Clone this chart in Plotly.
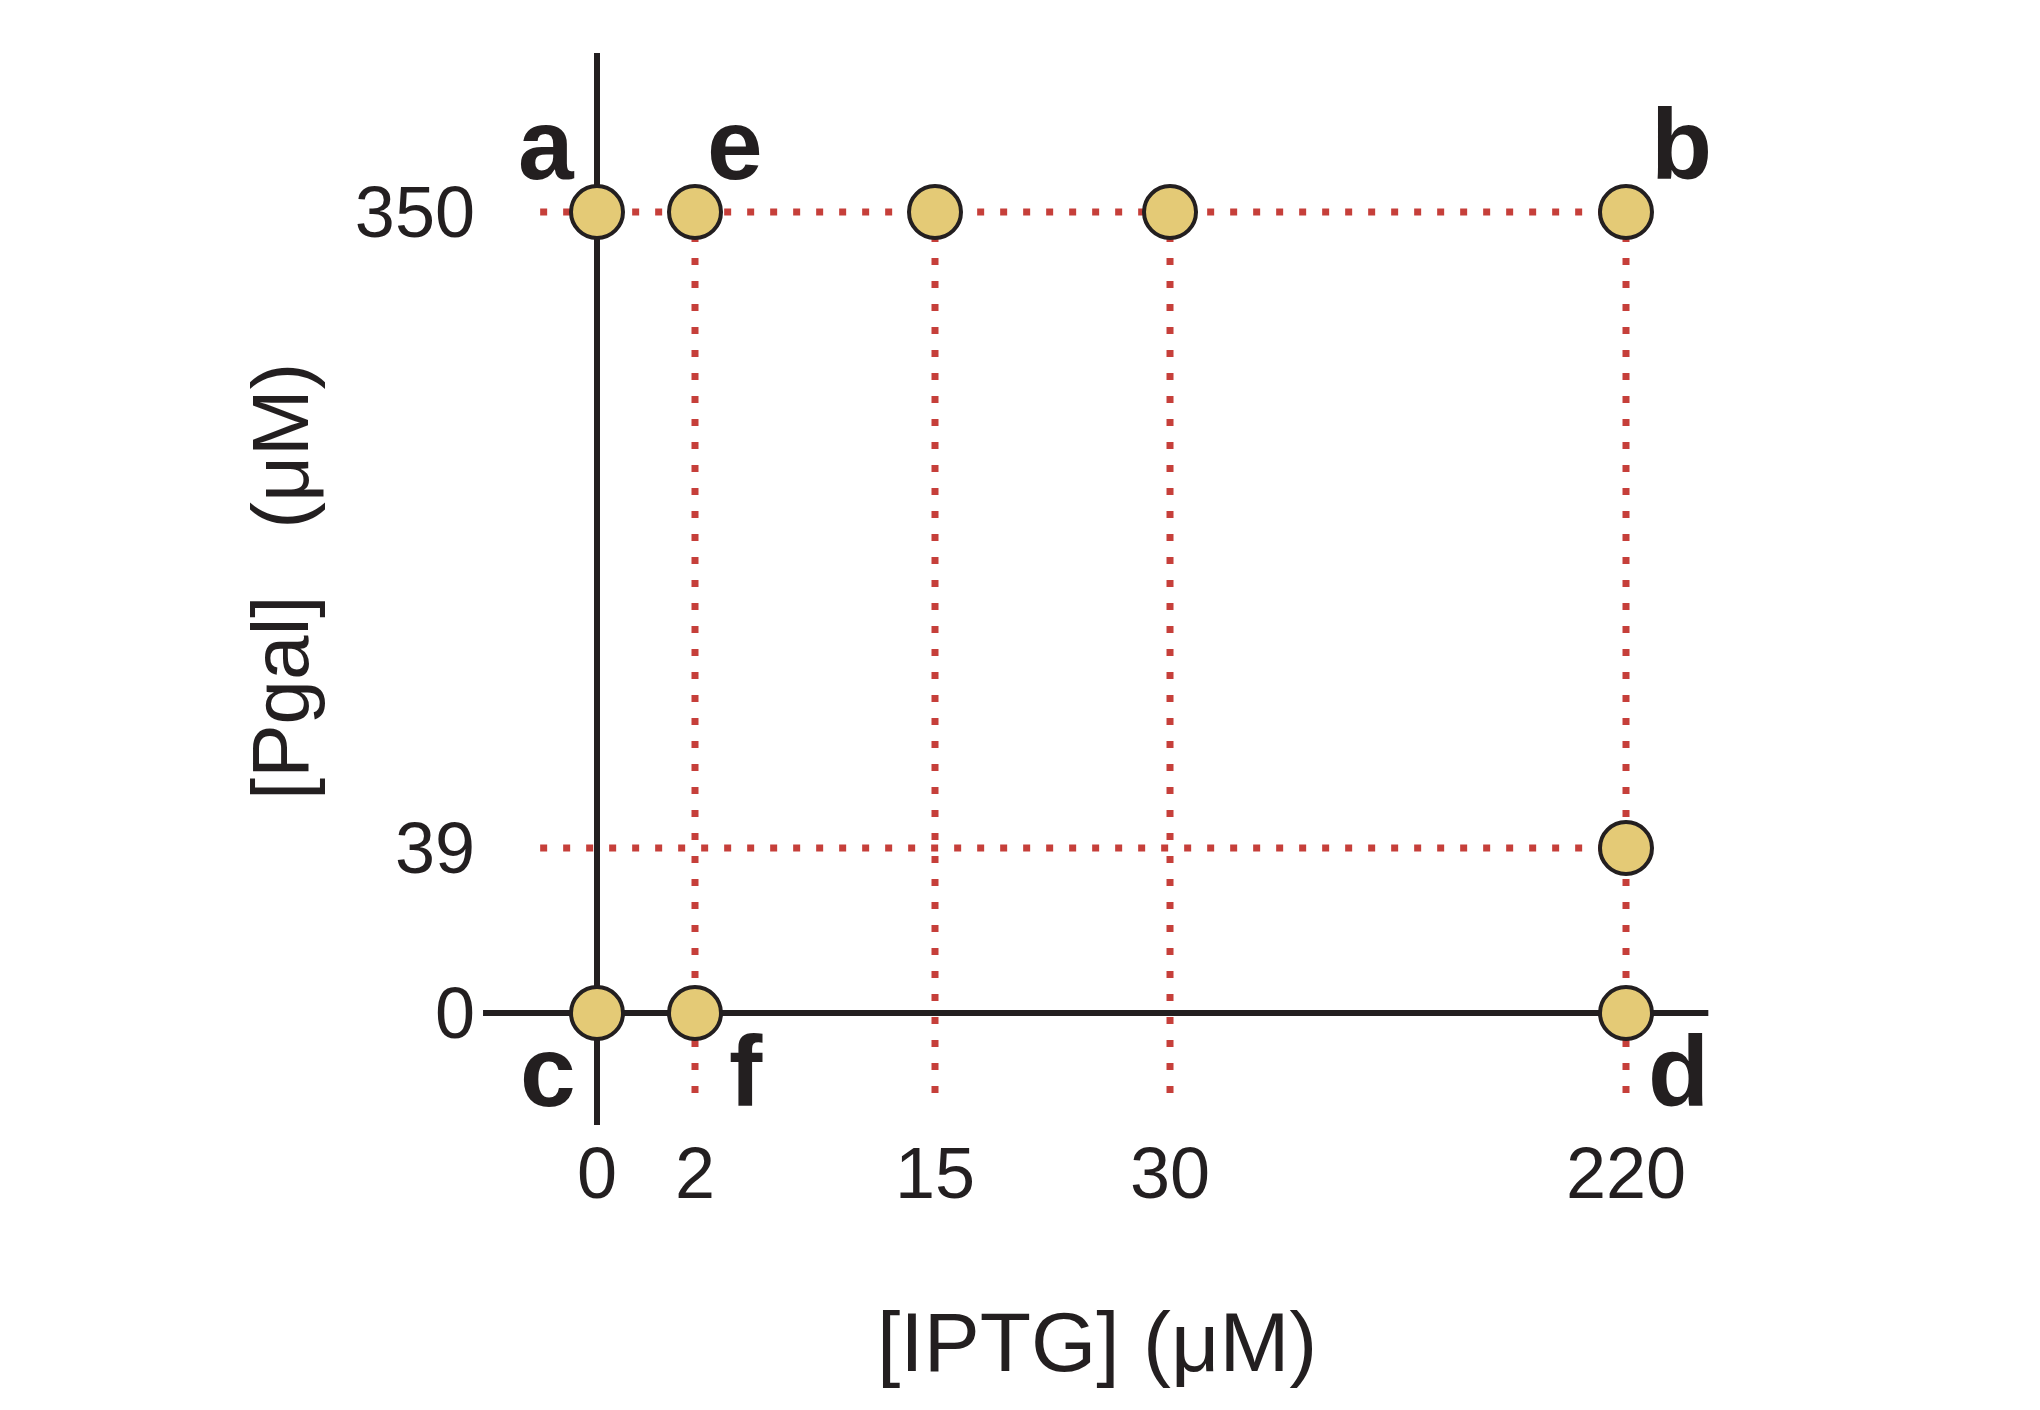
import numpy as np
import plotly.graph_objects as go

# ---------------- data ----------------
iptg_ticks = [0, 2, 15, 30, 220]          # x tick values (µM)
pgal_ticks = [0, 39, 350]                 # y tick values (µM)
x_tick_labels = ["0", "2", "15", "30", "220"]
y_tick_labels = ["0", "39", "350"]

# experimental conditions (IPTG, Pgal)
point_iptg = [0, 2, 15, 30, 220, 220, 0, 2, 220]
point_pgal = [350, 350, 350, 350, 350, 39, 0, 0, 0]

# corner labels and the condition they mark
corner_letters = ["a", "e", "b", "c", "f", "d"]
corner_iptg = [0, 2, 220, 0, 2, 220]
corner_pgal = [350, 350, 350, 0, 0, 0]

# guide lines
guide_pgal_levels = [350, 39]
guide_iptg_levels = [2, 15, 30, 220]

# ---------------- schematic (broken) axis scales ----------------
# the published figure uses non-proportional spacing; piecewise-linear scale
x_scale_domain = [0, 2, 15, 30, 220]
x_scale_range = [0, 1.0, 3.449, 5.847, 10.5]
y_scale_domain = [0, 39, 350]
y_scale_range = [0, 72.1, 350]


def sx(v):
    return np.interp(v, x_scale_domain, x_scale_range)


def sy(v):
    return np.interp(v, y_scale_domain, y_scale_range)


# ---------------- layout geometry ----------------
W, H = 2024, 1394          # page has 8px body margin
X0_PX, PX_PER_U = 589, 98.0
Y0_PX, PX_PER_V = 1005, 801 / 350.0
x_range = [-X0_PX / PX_PER_U, (W - X0_PX) / PX_PER_U]
y_range = [(Y0_PX - H) / PX_PER_V, Y0_PX / PX_PER_V]

INK = "#231F20"
RED = "#C63F3A"
FILL = "#E4CA76"
FONT = "Liberation Sans, Arial, sans-serif"

fig = go.Figure()

# red dotted guides
dot = dict(color=RED, width=7, dash="7px,16px")
guide_left = -0.58
guide_bottom = -36
for lvl in guide_pgal_levels:
    fig.add_trace(go.Scatter(x=[guide_left, sx(max(iptg_ticks))], y=[sy(lvl), sy(lvl)],
                             mode="lines", line=dot, hoverinfo="skip", showlegend=False))
for lvl in guide_iptg_levels:
    fig.add_trace(go.Scatter(x=[sx(lvl), sx(lvl)], y=[sy(max(pgal_ticks)), guide_bottom],
                             mode="lines", line=dot, hoverinfo="skip", showlegend=False))

# black axis lines
fig.add_trace(go.Scatter(x=[0, 0], y=[419.5, -48.9], mode="lines",
                         line=dict(color=INK, width=6), hoverinfo="skip", showlegend=False))
fig.add_trace(go.Scatter(x=[-1.163, 11.34], y=[0, 0], mode="lines",
                         line=dict(color=INK, width=6), hoverinfo="skip", showlegend=False))

# condition markers
fig.add_trace(go.Scatter(x=sx(point_iptg), y=sy(point_pgal), mode="markers",
                         marker=dict(size=52, color=FILL, line=dict(color=INK, width=4)),
                         showlegend=False))

# corner letters
offsets = {"a": (-51, 68), "e": (40, 68), "b": (55, 68),
           "c": (-49, -58), "f": (51, -58), "d": (52, -58)}
for L, xi, yi in zip(corner_letters, corner_iptg, corner_pgal):
    dx, dy = offsets[L]
    fig.add_annotation(x=float(sx(xi)), y=float(sy(yi)), xref="x", yref="y", text=L,
                       showarrow=False, xshift=dx, yshift=dy,
                       xanchor="center", yanchor="middle",
                       font=dict(family=FONT, size=100, color=INK, weight="bold"))

# axis titles
fig.add_annotation(x=(1097 - 8) / W, y=1 - (1342 - 8) / H, xref="paper", yref="paper",
                   xanchor="center", yanchor="middle",
                   text="[IPTG] (μM)", showarrow=False,
                   font=dict(family=FONT, size=84, color=INK))
fig.add_annotation(x=(280 - 8) / W, y=1 - (582 - 8) / H, xref="paper", yref="paper",
                   xanchor="center", yanchor="middle",
                   text="[Pgal]\u00a0\u00a0\u00a0(μM)", textangle=-90, showarrow=False,
                   font=dict(family=FONT, size=80, color=INK))

fig.update_xaxes(range=x_range, domain=[0, 1], tickvals=list(sx(iptg_ticks)),
                 ticktext=x_tick_labels, showgrid=False, zeroline=False, showline=False,
                 ticks="", anchor="free", position=(H - Y0_PX) / H, ticklabelstandoff=112,
                 tickfont=dict(family=FONT, size=72, color=INK), fixedrange=True)
fig.update_yaxes(range=y_range, domain=[0, 1], tickvals=list(sy(pgal_ticks)),
                 ticktext=y_tick_labels, showgrid=False, zeroline=False, showline=False,
                 ticks="", anchor="free", position=X0_PX / W, ticklabelstandoff=122,
                 tickfont=dict(family=FONT, size=72, color=INK), fixedrange=True)

fig.update_layout(width=W, height=H, autosize=False,
                  margin=dict(l=0, r=0, t=0, b=0),
                  paper_bgcolor="white", plot_bgcolor="white")

fig.write_html("out.html")
